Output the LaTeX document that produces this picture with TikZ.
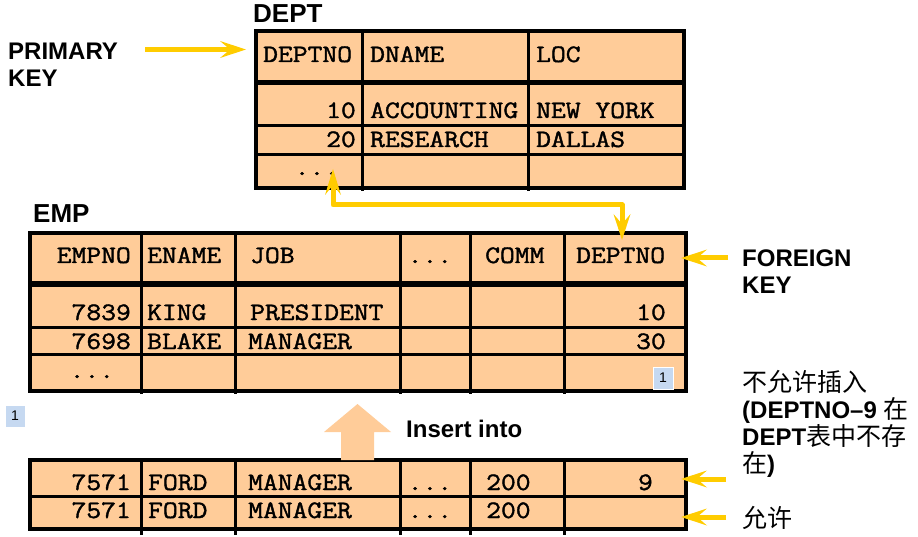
\documentclass[tikz,border=0pt]{standalone}
\usepackage{fontspec}
\setmainfont{Liberation Sans}
\newfontfamily\cellfont{Latin Modern Mono}[FakeStretch=1.15,FakeBold=1.6]
\newfontfamily\cjk{Noto Sans CJK SC}
\usetikzlibrary{arrows.meta}
\definecolor{peach}{HTML}{FFCC99}
\definecolor{ykey}{HTML}{FFCC00}
\definecolor{tagblue}{HTML}{C6D9F1}
\begin{document}
\begin{tikzpicture}[x=1pt,y=-1pt,
  cell/.style={font=\cellfont\fontsize{25}{25}\selectfont, inner sep=0pt},
  lt/.style={cell, anchor=base west},
  rt/.style={cell, anchor=base east},
  lbl/.style={font=\bfseries\fontsize{24}{24}\selectfont, inner sep=0pt, anchor=base west},
  ttl/.style={font=\bfseries\fontsize{26}{26}\selectfont, inner sep=0pt, anchor=base west},
  cjkl/.style={font=\fontsize{25}{25}\selectfont, inner sep=0pt, anchor=base west},
  tag/.style={fill=tagblue, draw=white, line width=0.8pt, minimum width=20pt, minimum height=22pt, inner sep=0pt, font=\fontsize{14}{14}\selectfont},
  yarrow/.style={draw=ykey, line width=5pt, -{Stealth[length=26pt,width=17pt,inset=10pt,line width=0pt]}},
  yboth/.style={draw=ykey, line width=5pt, line join=round, {Stealth[length=26pt,width=16pt,inset=10pt,line width=0pt]}-{Stealth[length=26pt,width=17pt,inset=10pt,line width=0pt]}},
  outer/.style={line width=4pt},
  inner/.style={line width=3pt},
  sep/.style={line width=5.5pt}]
\useasboundingbox (0,0) rectangle (918,537);

% ---------- DEPT table ----------
\fill[peach] (256,31) rectangle (684,188);
\draw[inner] (256,126) -- (684,126) (256,155) -- (684,155);
\draw[sep] (256,82.5) -- (684,82.5);
\draw[inner] (362,31) -- (362,191) (528,31) -- (528,191);
\draw[outer] (256,31) rectangle (684,188);
\node[ttl] (dept) at (253,23) {DEPT};
\node[lt] (dh1) at (263,62) {DEPTNO};
\node[lt] (dh2) at (370,62) {DNAME};
\node[lt] (dh3) at (536,62) {LOC};
\node[rt] (d11) at (356,118) {10};
\node[lt] (d12) at (370,118) {ACCOUNTING};
\node[lt] (d13) at (536,118) {NEW YORK};
\node[rt] (d21) at (356,147) {20};
\node[lt] (d22) at (370,147) {RESEARCH};
\node[lt] (d23) at (536,147) {DALLAS};
\node[lt] (d31) at (294.5,175) {...};

% ---------- EMP table ----------
\fill[peach] (30,233) rectangle (686,391);
\draw[inner] (30,327) -- (686,327) (30,354) -- (686,354);
\draw[sep] (30,284) -- (686,284);
\draw[inner] (141,233) -- (141,394) (235,233) -- (235,394) (400,233) -- (400,394)
  (470,233) -- (470,394) (564,233) -- (564,394);
\draw[outer] (30,233) rectangle (686,391);
\node[ttl] (emp) at (33,223) {EMP};
\node[rt] (eh1) at (131,263) {EMPNO};
\node[lt] (eh2) at (147,263) {ENAME};
\node[lt] (eh3) at (250,263) {JOB};
\node[lt] (eh4) at (407.5,263) {...};
\node[lt] (eh5) at (485,263) {COMM};
\node[lt] (eh6) at (576,263) {DEPTNO};
\node[rt] (e11) at (131,320) {7839};
\node[lt] (e12) at (147,320) {KING};
\node[lt] (e13) at (250,320) {PRESIDENT};
\node[rt] (e16) at (666,320) {10};
\node[rt] (e21) at (131,349) {7698};
\node[lt] (e22) at (147,349) {BLAKE};
\node[lt] (e23) at (248,349) {MANAGER};
\node[rt] (e26) at (666,349) {30};
\node[lt] (e31) at (69.5,378) {...};

% ---------- inserted rows ----------
\fill[peach] (30,460) rectangle (686,529);
\draw[inner] (30,496) -- (686,496);
\draw[inner] (141,460) -- (141,535) (235,460) -- (235,535) (400,460) -- (400,535)
  (470,460) -- (470,535) (564,460) -- (564,535);
\draw[outer] (30,460) rectangle (686,529);
\node[rt] (i11) at (131,490) {7571};
\node[lt] (i12) at (148,490) {FORD};
\node[lt] (i13) at (248,490) {MANAGER};
\node[lt] (i14) at (407.5,490) {...};
\node[lt] (i15) at (486,490) {200};
\node[rt] (i16) at (653,490) {9};
\node[rt] (i21) at (131,518) {7571};
\node[lt] (i22) at (148,518) {FORD};
\node[lt] (i23) at (248,518) {MANAGER};
\node[lt] (i24) at (407.5,518) {...};
\node[lt] (i25) at (486,518) {200};

% ---------- insert arrow ----------
\fill[peach] (341,460) -- (341,432) -- (324,432) -- (357.5,404) -- (391,432) -- (374,432) -- (374,460) -- cycle;
\node[lbl] (ins) at (406,437) {Insert into};

% ---------- tags ----------
\node[tag] (tag1) at (15,416) {1};
\node[tag] (tag2) at (663,378) {1};

% ---------- labels ----------
\node[lbl] (pk1) at (8,60) {PRIMARY};
\node[lbl] (pk2) at (8,87) {KEY};
\node[lbl] (fk1) at (742,267) {FOREIGN};
\node[lbl] (fk2) at (742,294) {KEY};
\node[cjkl] (n1) at (742,391) {\cjk 不允许插入};
\node[cjkl] (n2) at (742,418) {{\bfseries\fontsize{24}{24}\selectfont (DEPTNO–9} {\cjk 在}};
\node[cjkl] (n3) at (742,445) {{\bfseries\fontsize{24}{24}\selectfont DEPT}{\cjk 表中不存}};
\node[cjkl] (n4) at (742,472) {{\cjk 在}{\bfseries\fontsize{24}{24}\selectfont )}};
\node[cjkl] (ok) at (742,527) {\cjk 允许};

% ---------- yellow arrows ----------
\coordinate (pkTail) at (145,49.5);
\coordinate (pkTip) at (246,49.5);
\draw[yarrow] (pkTail) -- (pkTip);
\coordinate (fkTail) at (728,258);
\coordinate (fkTip) at (681,258);
\draw[yarrow] (fkTail) -- (fkTip);
\coordinate (r1Tail) at (726,479);
\coordinate (r1Tip) at (681,479);
\draw[yarrow] (r1Tail) -- (r1Tip);
\coordinate (r2Tail) at (726,517);
\coordinate (r2Tip) at (681,517);
\draw[yarrow] (r2Tail) -- (r2Tip);
\coordinate (refTop) at (333,169);
\coordinate (refC1) at (333,205);
\coordinate (refC2) at (622,205);
\coordinate (refBot) at (622,240);
\draw[yboth] (refTop) -- (refC1) -- (refC2) -- (refBot);
\end{tikzpicture}
\end{document}
